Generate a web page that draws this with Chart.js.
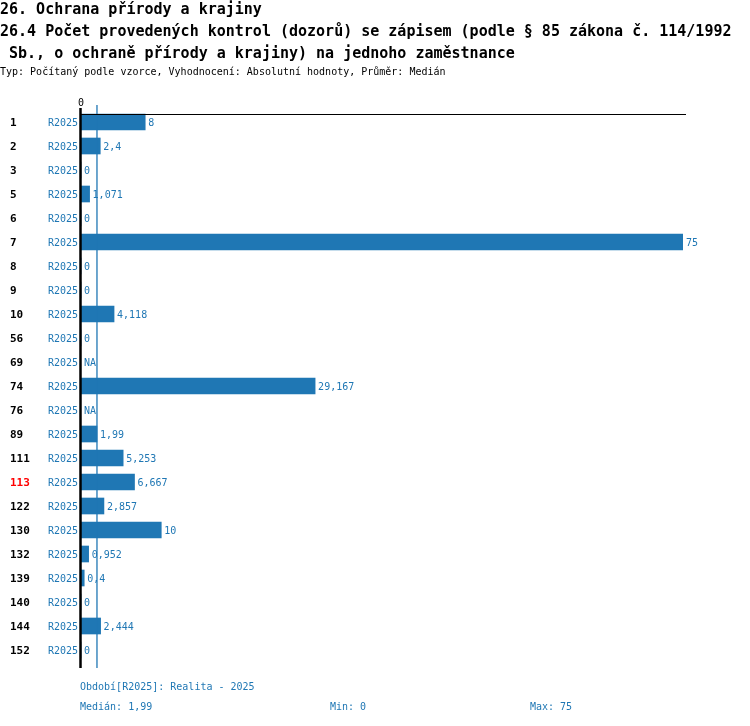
<!DOCTYPE html>
<html>
<head>
<meta charset="utf-8">
<script src="https://cdn.jsdelivr.net/npm/chart.js@4/dist/chart.umd.min.js"></script>
<style>
  body { margin: 0; background: #fff; }
  .wrap { position: relative; width: 750px; height: 726px; overflow: hidden; }
  .txt { position: absolute; white-space: pre; font-family: "DejaVu Sans Mono", monospace; }
  .h1 { font-size: 15px; font-weight: bold; color: #000; left: 0; }
  .sub { font-size: 10px; color: #000; left: 0; top: 66px; }
  .foot { font-size: 10px; color: #1f77b4; }
  canvas { position: absolute; left: 0; top: 0; }
</style>
</head>
<body>
<div class="wrap">
  <canvas id="chart" width="750" height="726"></canvas>
  <div class="txt h1" style="top:0px">26. Ochrana přírody a krajiny</div>
  <div class="txt h1" style="top:22px">26.4 Počet provedených kontrol (dozorů) se zápisem (podle § 85 zákona č. 114/1992</div>
  <div class="txt h1" style="top:44px"> Sb., o ochraně přírody a krajiny) na jednoho zaměstnance</div>
  <div class="txt sub">Typ: Počítaný podle vzorce, Vyhodnocení: Absolutní hodnoty, Průměr: Medián</div>
  <div class="txt foot" style="left:80px; top:681px">Období[R2025]: Realita - 2025</div>
  <div class="txt foot" style="left:80px; top:701px">Medián: 1,99</div>
  <div class="txt foot" style="left:330px; top:701px">Min: 0</div>
  <div class="txt foot" style="left:530px; top:701px">Max: 75</div>
</div>
<script>
// row codes and their values (null = NA)
const rowCodes = ['1', '2', '3', '5', '6', '7', '8', '9', '10', '56', '69', '74', '76',
  '89', '111', '113', '122', '130', '132', '139', '140', '144', '152']
const values2025 = [8, 2.4, 0, 1.071, 0, 75, 0, 0, 4.118, 0, null, 29.167, null,
  1.99, 5.253, 6.667, 2.857, 10, 0.952, 0.4, 0, 2.444, 0]
const periodLabel = 'R2025'
const highlightCode = '113'
const medianValue = 1.99
const axisMax = 75

const blue = '#1f77b4'
const mono = '"DejaVu Sans Mono", monospace'

const fmt = v => String(v).replace('.', ',')

// labels, axis lines and median line
const decorPlugin = {
  id: 'decor',
  afterDatasetsDraw(chart) {
    const ctx = chart.ctx
    const x = chart.scales.x
    const y = chart.scales.y
    const meta = chart.getDatasetMeta(0)
    const x0 = x.getPixelForValue(0)
    ctx.save()

    // median line
    const xm = x.getPixelForValue(medianValue)
    ctx.strokeStyle = blue
    ctx.lineWidth = 1.3
    ctx.beginPath()
    ctx.moveTo(xm, 105)
    ctx.lineTo(xm, 668)
    ctx.stroke()

    // top line
    ctx.strokeStyle = '#000'
    ctx.lineWidth = 1
    ctx.beginPath()
    ctx.moveTo(x0 - 1, 114.5)
    ctx.lineTo(686, 114.5)
    ctx.stroke()

    // zero axis
    ctx.lineWidth = 2.5
    ctx.beginPath()
    ctx.moveTo(x0 - 0.5, 108)
    ctx.lineTo(x0 - 0.5, 668)
    ctx.stroke()

    ctx.fillStyle = '#000'
    ctx.font = '10px ' + mono
    ctx.textAlign = 'center'
    ctx.textBaseline = 'middle'
    ctx.fillText('0', x0, 103)

    rowCodes.forEach((code, i) => {
      const yc = y.getPixelForValue(i)
      ctx.textBaseline = 'middle'

      ctx.textAlign = 'left'
      ctx.font = 'bold 11px ' + mono
      ctx.fillStyle = code === highlightCode ? '#ff0000' : '#000'
      ctx.fillText(code, 10, yc + 1)

      ctx.font = '10px ' + mono
      ctx.fillStyle = blue
      ctx.textAlign = 'right'
      ctx.fillText(periodLabel, 78, yc + 1)

      ctx.textAlign = 'left'
      const v = values2025[i]
      if (v === null) {
        ctx.fillText('NA', x0 + 3, yc + 1)
      } else {
        const bar = meta.data[i]
        const xe = v === 0 ? x0 : bar.x
        ctx.fillText(fmt(v), xe + 3, yc + 1)
      }
    })
    ctx.restore()
  }
}

new Chart(document.getElementById('chart'), {
  type: 'bar',
  data: {
    labels: rowCodes,
    datasets: [{
      label: periodLabel,
      data: values2025,
      backgroundColor: blue,
      borderWidth: 0,
      barThickness: 16
    }]
  },
  options: {
    indexAxis: 'y',
    responsive: false,
    animation: false,
    layout: { padding: { left: 81, right: 67, top: 110, bottom: 64 } },
    scales: {
      x: { display: false, min: 0, max: axisMax },
      y: { display: false }
    },
    plugins: {
      legend: { display: false },
      tooltip: { enabled: false }
    }
  },
  plugins: [decorPlugin]
})
</script>
</body>
</html>
